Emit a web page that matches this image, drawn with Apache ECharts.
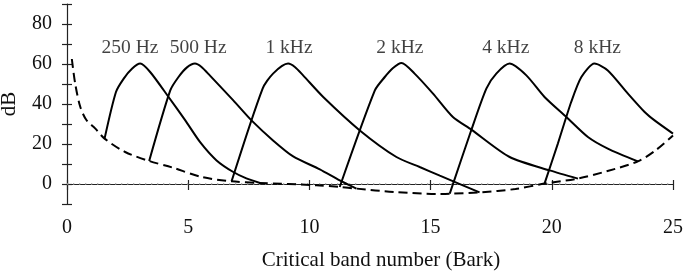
<!DOCTYPE html>
<html>
<head>
<meta charset="utf-8">
<script src="https://cdn.jsdelivr.net/npm/echarts@6/dist/echarts.min.js"></script>
<style>html,body{margin:0;padding:0;background:#fff}#c{width:685px;height:272px}</style>
</head>
<body>
<div id="c"></div>
<script>
// Threshold in quiet (dashed)
const threshold = [[0.2,62.5],[0.34,50],[0.55,38.5],[0.8,32],[1.17,27.7],[1.55,22.7],[2.4,16],[3.39,11.5],[4.33,8.3],[5.56,3.5],[6.79,1.35],[7.96,0.5],[10.29,-0.6],[11.25,-1.5],[11.94,-2.3],[13.5,-4],[15.38,-5.0],[15.79,-4.9],[17.02,-4.2],[18.5,-2.5],[19.7,0.2],[21.08,2.7],[22.3,6.5],[23.55,11.3],[24.3,17],[25,24.3]];
// Masking curves
const mask250 = [[1.55,22.7],[2.02,46],[2.34,52.7],[2.68,57.6],[3.02,60.2],[3.43,56],[4.19,43.5],[4.88,31.8],[5.5,20.8],[6.17,11.8],[6.86,6],[7.4,2.8],[7.96,0.5]];
const mask500 = [[3.39,11.5],[4.26,46.8],[4.6,53.5],[4.95,58.3],[5.28,60.2],[5.55,58.5],[5.89,54.3],[6.86,41.8],[7.61,31.8],[8.5,21.8],[9.33,13.8],[10.43,7.3],[11.25,1.8],[11.94,-2.3]];
const mask1k = [[6.79,1.35],[8.07,47.7],[8.5,55.2],[9.12,60.2],[9.4,58.5],[9.74,54.3],[10.57,43.5],[12.08,26.8],[13.59,13.5],[14.55,8.5],[15.38,4.2],[17.02,-4.2]];
const mask2k = [[11.25,-1.5],[12.7,46.8],[13.11,53.5],[13.45,58],[13.8,60.5],[14.34,55.2],[15.1,45.2],[15.92,33.5],[16.68,27.2],[18.26,13.5],[19.91,6.8],[21.08,2.7]];
const mask4k = [[15.79,-4.8],[16.68,27],[17.3,47.7],[17.71,55.2],[18.26,60.2],[18.95,54.3],[19.7,43.5],[20.6,33.5],[21.49,23.5],[22.31,17.7],[23.55,11.3]];
const mask8k = [[19.7,0.2],[20.25,20.2],[20.8,41],[21.22,53.5],[21.76,60.2],[22.31,56.8],[23.14,45.2],[23.83,36],[24.24,31.8],[25,25.2]];
const zeroLine = [[0,0],[25,0]];
// Curve labels
const labelNames = ['250 Hz','500 Hz','1 kHz','2 kHz','4 kHz','8 kHz'];
const labelX = [2.6,5.41,9.16,13.73,18.1,21.88];
const labelY = [68,68,68,68,68,68];
// Axis settings
const xMin = 0, xMax = 25, xStep = 5;
const yMin = -10, yMax = 90, yStep = 10, yLabelStep = 20;

const font = 'Liberation Serif';
const axisColor = '#222';
const chart = echarts.init(document.getElementById('c'), null, {renderer:'canvas'});

const solid = (d) => ({type:'line', data:d, symbol:'none', smooth:0.25, xAxisIndex:0, yAxisIndex:0,
  lineStyle:{color:'#000', width:2}, silent:true});

chart.setOption({
  animation:false,
  grid:{left:67, right:12, top:4, bottom:68, containLabel:false, outerBoundsMode:'none'},
  xAxis:[
    {type:'value', min:xMin, max:xMax, interval:xStep, position:'bottom',
     axisLine:{show:true, lineStyle:{color:axisColor, width:1.2}},
     axisTick:{show:true, inside:false, length:6, lineStyle:{color:axisColor, width:1.2}},
     axisLabel:{show:true, margin:14, fontFamily:font, fontSize:20, color:'#111'},
     splitLine:{show:false},
     name:'Critical band number (Bark)', nameLocation:'middle', nameGap:46,
     nameTextStyle:{fontFamily:font, fontSize:21, color:'#111', padding:[0,0,0,22]}},
    {type:'value', min:xMin, max:xMax, interval:xStep, position:'bottom', gridIndex:0,
     axisLine:{show:false}, axisTick:{show:true, inside:true, length:4, lineStyle:{color:axisColor, width:1.2}},
     axisLabel:{show:false}, splitLine:{show:false}}
  ],
  yAxis:[
    {type:'value', min:yMin, max:yMax, interval:yStep, position:'left',
     axisLine:{show:true, lineStyle:{color:axisColor, width:1.2}},
     axisTick:{show:true, inside:false, length:5, lineStyle:{color:axisColor, width:1.2}},
     axisLabel:{show:true, margin:15, fontFamily:font, fontSize:20, color:'#111',
       formatter:(v)=> (v % yLabelStep === 0 ? String(v) : '')},
     splitLine:{show:false},
     name:'dB', nameLocation:'middle', nameGap:47, nameRotate:90,
     nameTextStyle:{fontFamily:font, fontSize:21, color:'#111'}},
    {type:'value', min:yMin, max:yMax, interval:yStep, position:'left', offset:0,
     axisLine:{show:false}, axisTick:{show:true, inside:true, length:5, lineStyle:{color:axisColor, width:1.2}},
     axisLabel:{show:false}, splitLine:{show:false}}
  ],
  series:[
    {type:'line', data:zeroLine, symbol:'none', silent:true,
     lineStyle:{color:'#999', width:1.3, type:[1.3,4.7]}},
    {type:'line', data:threshold, symbol:'none', smooth:0.3, silent:true,
     lineStyle:{color:'#000', width:2, type:[9,5]}},
    solid(mask250), solid(mask500), solid(mask1k), solid(mask2k), solid(mask4k), solid(mask8k),
    {type:'scatter', symbolSize:0, silent:true,
     data: labelNames.map((n,i)=>[labelX[i], labelY[i], n]),
     label:{show:true, position:'inside', formatter:(p)=>p.value[2],
       fontFamily:font, fontSize:19.5, color:'#111'}}
  ]
});
</script>
</body>
</html>
